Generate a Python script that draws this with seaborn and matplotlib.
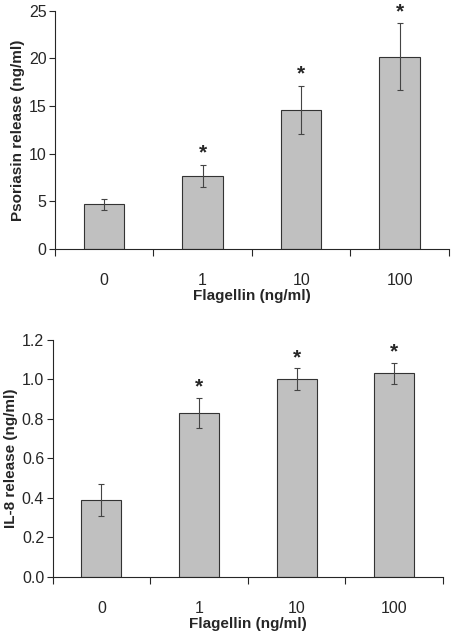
import numpy as np
import pandas as pd
import seaborn as sns
import matplotlib.pyplot as plt

flagellin = ["0", "1", "10", "100"]
psoriasin_mean = [4.7, 7.7, 14.6, 20.2]
psoriasin_err = [0.55, 1.15, 2.55, 3.5]
il8_mean = [0.39, 0.83, 1.0, 1.03]
il8_err = [0.08, 0.075, 0.055, 0.055]
signif = ["", "*", "*", "*"]

sns.set_style("ticks")
plt.rcParams["font.family"] = ["Liberation Sans", "DejaVu Sans"]

fig = plt.figure(figsize=(4.53, 6.34), dpi=100)
ax1 = fig.add_axes([0.121, 0.607, 0.870, 0.376])
ax2 = fig.add_axes([0.116, 0.090, 0.862, 0.374])


def panel(ax, means, errs, ylabel, ylim, yticks, fmt, star_off):
    df = pd.DataFrame({"flagellin": flagellin, "value": means})
    sns.barplot(data=df, x="flagellin", y="value", ax=ax, color="#c0c0c0",
                saturation=1, width=0.41, edgecolor="#333333", linewidth=0.8,
                errorbar=None)
    xs = np.arange(len(flagellin))
    ax.errorbar(xs, means, yerr=errs, fmt="none", ecolor="#444444",
                elinewidth=0.8, capsize=2.5, capthick=0.8)
    for x, m, e, s in zip(xs, means, errs, signif):
        if s:
            ax.text(x, m + e + star_off, s, ha="center", va="bottom",
                    fontsize=15, fontweight="bold")
    ax.set_xlim(-0.5, len(flagellin) - 0.5)
    ax.set_ylim(*ylim)
    ax.set_yticks(yticks)
    ax.set_yticklabels([fmt.format(v) for v in yticks])
    ax.set_xticks(xs)
    ax.set_xticks(np.arange(-0.5, len(flagellin)), minor=True)
    ax.tick_params(axis="x", which="major", length=0, pad=17, labelsize=11.5)
    ax.tick_params(axis="x", which="minor", length=5, width=0.8, direction="out")
    ax.tick_params(axis="y", length=4, width=0.8, direction="out", labelsize=11.5, pad=2)
    ax.set_xlabel("Flagellin (ng/ml)", fontsize=11, fontweight="bold", labelpad=1)
    ax.set_ylabel(ylabel, fontsize=11, fontweight="bold", labelpad=3)
    for side in ("top", "right"):
        ax.spines[side].set_visible(False)
    for side in ("left", "bottom"):
        ax.spines[side].set_linewidth(0.8)


panel(ax1, psoriasin_mean, psoriasin_err, "Psoriasin release (ng/ml)",
      (0, 25), [0, 5, 10, 15, 20, 25], "{:g}", 0.2)
panel(ax2, il8_mean, il8_err, "IL-8 release (ng/ml)",
      (0, 1.2), [0.0, 0.2, 0.4, 0.6, 0.8, 1.0, 1.2], "{:.1f}", 0.008)

fig.savefig("out.png", dpi=100)
